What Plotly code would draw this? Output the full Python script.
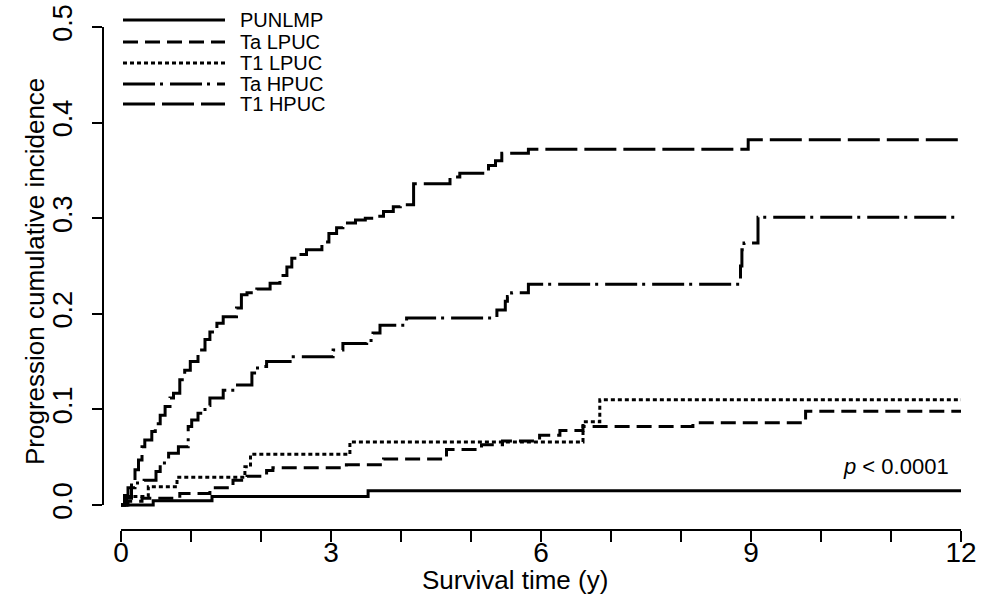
import plotly.graph_objects as go

# ---------------- data ----------------
punlmp_t = [0, 0.46, 1.30, 3.53, 12.0]
punlmp_v = [0, 0.0045, 0.009, 0.015, 0.015]

ta_lpuc_t = [0, 0.10, 0.30, 0.84, 1.27, 1.60, 1.80, 2.08, 2.17, 3.22, 3.75, 4.65,
             5.15, 5.45, 5.98, 6.27, 6.60, 8.17, 9.78, 12.0]
ta_lpuc_v = [0, 0.004, 0.007, 0.012, 0.018, 0.026, 0.030, 0.036, 0.039, 0.042, 0.048, 0.058,
             0.063, 0.067, 0.073, 0.078, 0.082, 0.086, 0.098, 0.098]

t1_lpuc_t = [0, 0.05, 0.39, 0.80, 1.77, 1.85, 3.27, 6.60, 6.84, 12.0]
t1_lpuc_v = [0, 0.009, 0.019, 0.029, 0.040, 0.053, 0.066, 0.087, 0.110, 0.110]

ta_hpuc_t = [0, 0.05, 0.10, 0.20, 0.33, 0.50, 0.56, 0.68, 0.82, 0.96, 1.01, 1.10, 1.20,
             1.27, 1.46, 1.63, 1.87, 1.95, 2.08, 2.46, 3.03, 3.17, 3.51, 3.60, 3.70,
             4.08, 5.37, 5.49, 5.52, 5.58, 5.82, 8.85, 8.87, 8.90, 9.10, 12.0]
ta_hpuc_v = [0, 0.010, 0.018, 0.023, 0.026, 0.035, 0.044, 0.054, 0.061, 0.082, 0.089, 0.096, 0.104,
             0.112, 0.120, 0.1255, 0.138, 0.145, 0.150, 0.155, 0.162, 0.169, 0.172, 0.180, 0.188,
             0.1955, 0.204, 0.213, 0.218, 0.222, 0.231, 0.250, 0.267, 0.274, 0.301, 0.301]

t1_hpuc_t = [0, 0.08, 0.15, 0.20, 0.25, 0.30, 0.34, 0.44, 0.49, 0.56, 0.63, 0.70, 0.75,
             0.84, 0.91, 0.99, 1.10, 1.20, 1.27, 1.37, 1.46, 1.65, 1.72, 1.80, 1.94,
             2.13, 2.27, 2.37, 2.44, 2.51, 2.65, 2.87, 2.97, 3.08, 3.17, 3.35, 3.49,
             3.63, 3.75, 3.89, 3.99, 4.18, 4.70, 4.84, 5.25, 5.35, 5.44, 5.82, 8.96, 12.0]
t1_hpuc_v = [0, 0.007, 0.023, 0.037, 0.047, 0.061, 0.068, 0.077, 0.085, 0.094, 0.103, 0.112, 0.117,
             0.131, 0.141, 0.150, 0.162, 0.173, 0.181, 0.190, 0.197, 0.206, 0.220, 0.222, 0.226,
             0.232, 0.240, 0.249, 0.258, 0.262, 0.267, 0.275, 0.284, 0.290, 0.295, 0.298, 0.300,
             0.302, 0.307, 0.312, 0.314, 0.336, 0.343, 0.347, 0.355, 0.360, 0.368, 0.372, 0.382, 0.382]

series_names = ["PUNLMP", "Ta LPUC", "T1 LPUC", "Ta HPUC", "T1 HPUC"]
series_t = [punlmp_t, ta_lpuc_t, t1_lpuc_t, ta_hpuc_t, t1_hpuc_t]
series_v = [punlmp_v, ta_lpuc_v, t1_lpuc_v, ta_hpuc_v, t1_hpuc_v]
series_dash = ["solid", "15px,7px", "4px,3px", "32px,5px,3px,7px", "32px,7px"]

x_tick_vals = [0, 3, 6, 9, 12]
y_tick_vals = [0.0, 0.1, 0.2, 0.3, 0.4, 0.5]
y_tick_text = ["0.0", "0.1", "0.2", "0.3", "0.4", "0.5"]

x_title = "Survival time (y)"
y_title = "Progression cumulative incidence"
p_text = "<i>p</i> &lt; 0.0001"

FONT = "Liberation Sans, Arial, sans-serif"
LW = 3

# body margin is removed by the post script, so page px == figure px
W, H = 985, 594
ml, mr, mt, mb = 103, 10, 5, 64
pw, ph = W - ml - mr, H - mt - mb


def px_x(page_x):
    return (page_x - ml) / pw


def px_y(page_y):
    return (H - mb - page_y) / ph


fig = go.Figure()
for name, t, v, dash in zip(series_names, series_t, series_v, series_dash):
    fig.add_trace(go.Scatter(x=t, y=v, mode="lines", name=name, line_shape="hv",
                             line=dict(color="black", width=LW, dash=dash),
                             showlegend=False))

# manual legend (line samples + labels)
row_px = [20, 42, 63, 84, 104]
for name, dash, py in zip(series_names, series_dash, row_px):
    yp = px_y(py)
    fig.add_shape(type="line", xref="paper", yref="paper",
                  x0=px_x(123), x1=px_x(225), y0=yp, y1=yp,
                  line=dict(color="black", width=LW, dash=dash))
    fig.add_annotation(xref="paper", yref="paper", x=px_x(238), y=yp,
                       text=name, showarrow=False, xanchor="left", yanchor="middle",
                       font=dict(family=FONT, size=20, color="black"))

# detached R-style axis lines
fig.add_shape(type="line", xref="x", yref="paper", x0=x_tick_vals[0], x1=x_tick_vals[-1],
              y0=0, y1=0, line=dict(color="black", width=2))
fig.add_shape(type="line", xref="paper", yref="y", x0=0, x1=0,
              y0=y_tick_vals[0], y1=y_tick_vals[-1], line=dict(color="black", width=2))

fig.add_annotation(xref="x", yref="y", x=11.86, y=0.04, text=p_text, showarrow=False,
                   xanchor="right", yanchor="middle",
                   font=dict(family=FONT, size=22, color="black"))

fig.add_annotation(xref="paper", yref="paper", x=px_x(515), y=px_y(580),
                   text=x_title, showarrow=False, xanchor="center", yanchor="middle",
                   font=dict(family=FONT, size=26, color="black"))
fig.add_annotation(xref="paper", yref="paper", x=px_x(35), y=px_y(272),
                   text=y_title, showarrow=False, textangle=-90,
                   xanchor="center", yanchor="middle",
                   font=dict(family=FONT, size=26, color="black"))

fig.update_layout(
    width=W, height=H,
    margin=dict(l=ml, r=mr, t=mt, b=mb, autoexpand=False),
    paper_bgcolor="white", plot_bgcolor="white",
    font=dict(family=FONT, size=26, color="black"),
    xaxis=dict(range=[-0.2571, 12.2], tickmode="array", tickvals=x_tick_vals,
               ticks="outside", ticklen=11, tickwidth=2, tickcolor="black",
               ticklabelstandoff=-14, ticklabeloverflow="allow",
               minor=dict(dtick=1, tick0=0, ticks="outside", ticklen=11, tickwidth=2,
                          tickcolor="black", showgrid=False),
               showgrid=False, zeroline=False, showline=False,
               tickfont=dict(family=FONT, size=28)),
    yaxis=dict(range=[-0.02615, 0.523], tickmode="array", tickvals=y_tick_vals,
               ticktext=y_tick_text, tickangle=-90,
               ticks="outside", ticklen=10, tickwidth=2, tickcolor="black",
               ticklabelstandoff=9, ticklabeloverflow="allow",
               showgrid=False, zeroline=False, showline=False,
               tickfont=dict(family=FONT, size=27)),
)

fig.write_html("out.html", config={"displayModeBar": False},
               post_script="document.body.style.margin='0';document.body.style.overflow='hidden';")
